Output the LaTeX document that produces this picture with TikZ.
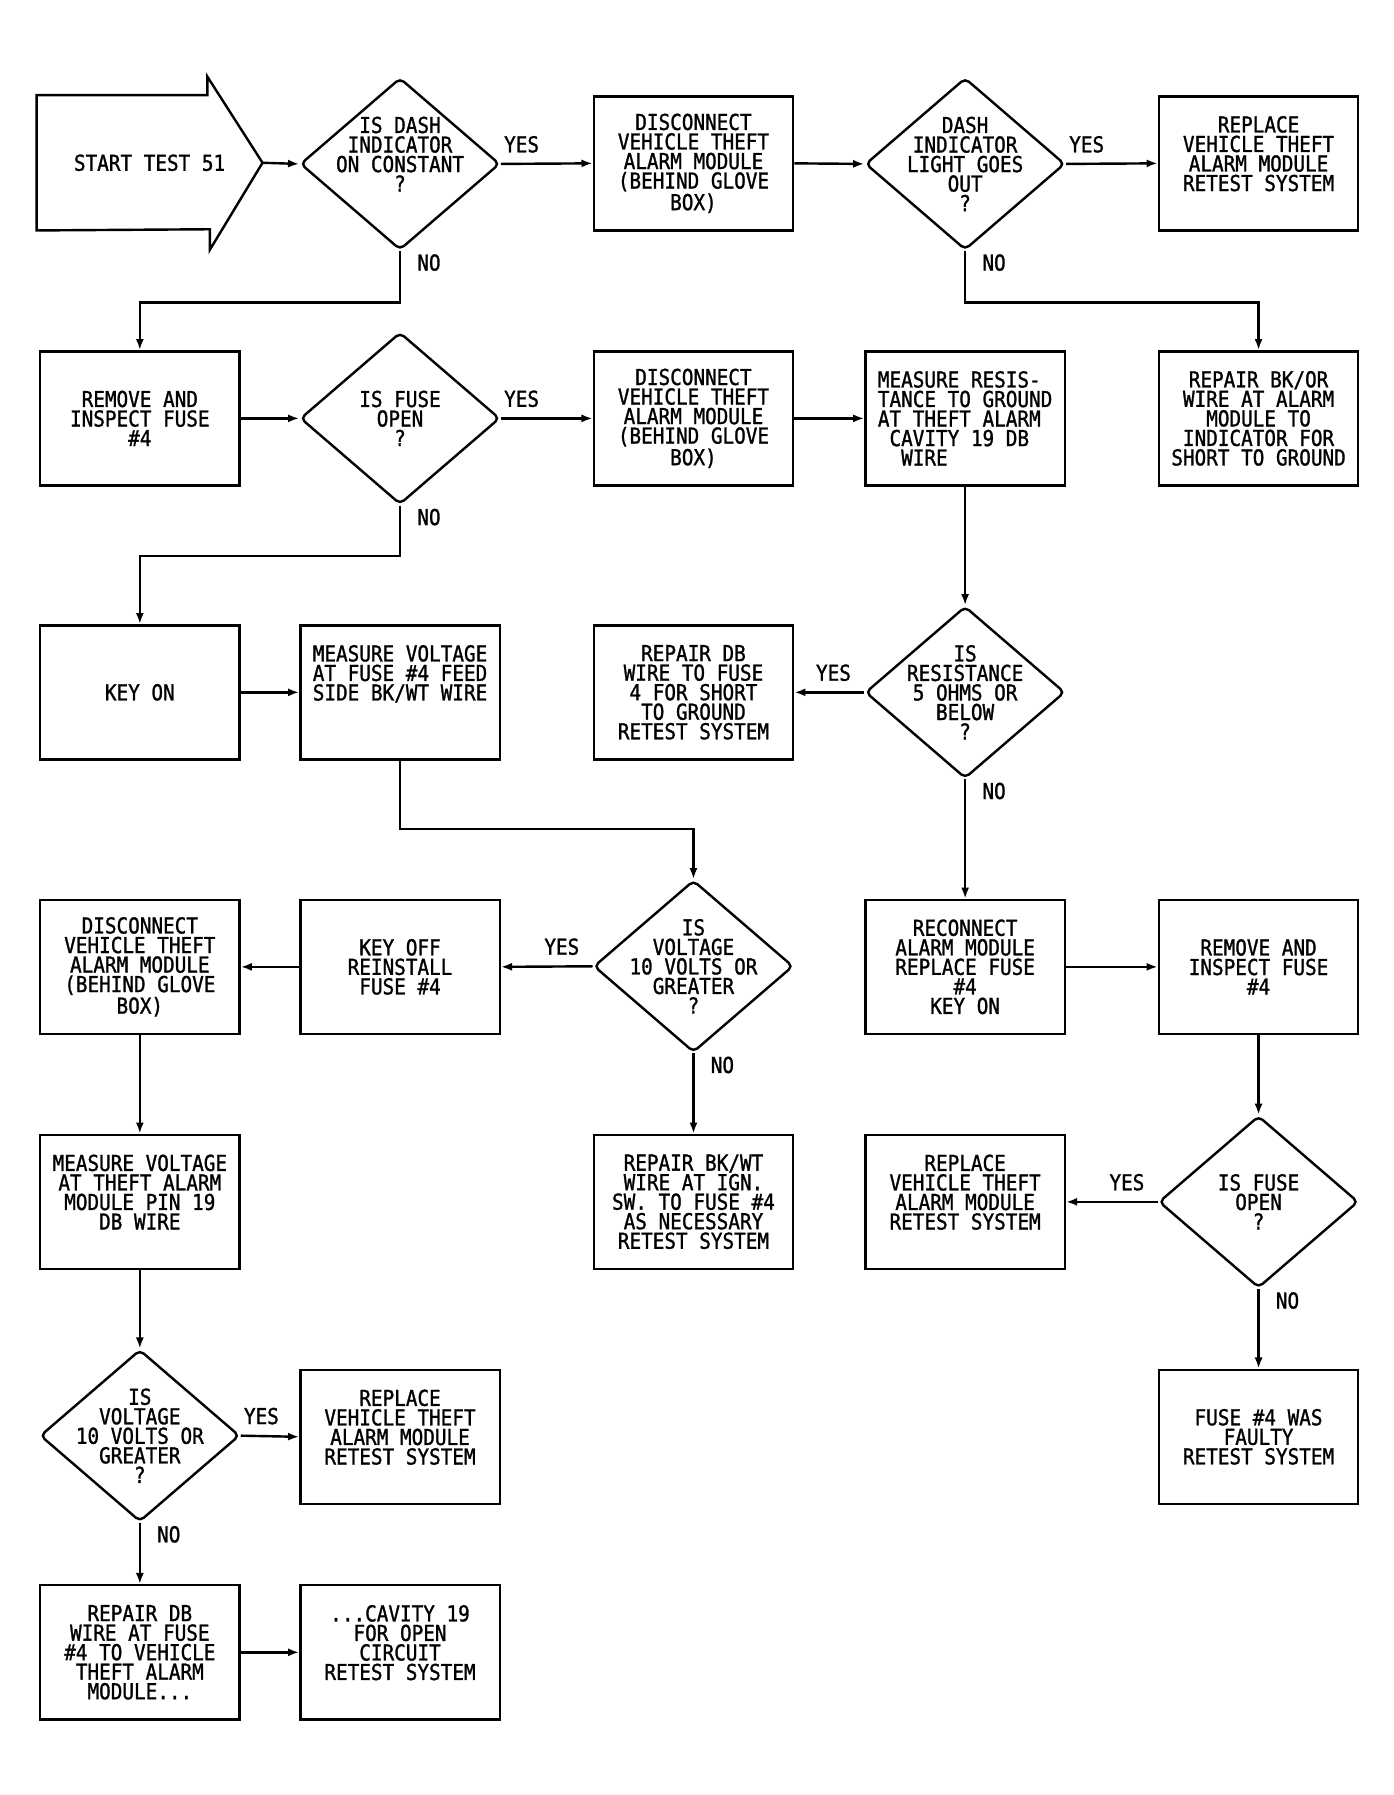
\documentclass[tikz,border=0pt]{standalone}
\usepackage{fontspec}
\usetikzlibrary{arrows.meta,shapes.geometric,calc}
\newfontfamily\plotter{DejaVu Sans Mono}[FakeStretch=0.88,FakeBold=1.2]
\def\plotsize{\plotter\fontsize{10.9pt}{9.7pt}\selectfont}

\begin{document}
\begin{tikzpicture}[x=0.02cm, y=-0.02cm, line width=1.2pt, font=\plotsize,
	box/.style={draw, rectangle, minimum width=3.48cm, minimum height=2.34cm, inner sep=0pt, align=center},
	dia/.style={draw, diamond, minimum width=3.48cm, minimum height=3cm, inner sep=0pt, rounded corners=2.5pt},
	dtext/.style={align=center, inner sep=0pt},
	startbox/.style={minimum width=3.9cm, minimum height=2.32cm, inner sep=0pt},
	conn/.style={-{Latex[length=5.5pt,width=4pt]}},
	yesr/.style={pos=0, anchor=south west, inner sep=0pt, xshift=1pt, yshift=5pt},
	yesl/.style={pos=0, anchor=south east, inner sep=0pt, xshift=-6pt, yshift=5pt},
	nolab/.style={pos=0, anchor=north west, inner sep=0pt, xshift=8pt, yshift=-1pt}]
			%%%%% START %%%%%
			\useasboundingbox (0,0) rectangle (1216,1566);
			
			\node[startbox] (start) at (130.5,142) {START TEST 51};
			\draw (start.north west) -- ++(149,0) -- ++(0,-16) -- (start.east) -- ++(-46,76) -- ++(0,-18) -- (start.south west) -- cycle;
			
			\node[dia, label={[dtext]center:{IS DASH\\INDICATOR\\ON CONSTANT\\?\\~}}] (d1) at (349,143) {};
			\node[box] (disc1) at (605,142.5) {DISCONNECT\\VEHICLE THEFT\\ALARM MODULE\\(BEHIND GLOVE\\BOX)};
			\node[dia, label={[dtext]center:{DASH\\INDICATOR\\LIGHT GOES\\OUT\\?}}] (d2) at (842,143) {};
			\node[box] (repl1) at (1098,142.5) {REPLACE\\VEHICLE THEFT\\ALARM MODULE\\RETEST SYSTEM\\~};
			
			\node[box] (rem1) at (122,365) {REMOVE AND\\INSPECT FUSE\\\#4};
			\node[dia, label={[dtext]center:{IS FUSE\\OPEN\\?}}] (d3) at (349,365) {};
			\node[box] (disc2) at (605,365) {DISCONNECT\\VEHICLE THEFT\\ALARM MODULE\\(BEHIND GLOVE\\BOX)};
			\node[box, align=left] (measres) at (842,365) {MEASURE RESIS-\\TANCE TO GROUND\\AT THEFT ALARM\\\hphantom{0}CAVITY 19 DB\\\hphantom{00}WIRE};
			\node[box] (repbkor) at (1098,365) {REPAIR BK/OR\\WIRE AT ALARM\\MODULE TO\\INDICATOR FOR\\SHORT TO GROUND};
			
			\node[box] (keyon) at (122,604) {KEY ON};
			\node[box] (measvf) at (349,604) {MEASURE VOLTAGE\\AT FUSE \#4 FEED\\SIDE BK/WT WIRE\\~\\~};
			\node[box] (repdb) at (605,604) {REPAIR DB\\WIRE TO FUSE\\4 FOR SHORT\\TO GROUND\\RETEST SYSTEM};
			\node[dia, label={[dtext]center:{IS\\RESISTANCE\\5 OHMS OR\\BELOW\\?}}] (dres) at (842,604) {};
			
			\node[box] (discv) at (122,843.5) {DISCONNECT\\VEHICLE THEFT\\ALARM MODULE\\(BEHIND GLOVE\\BOX)};
			\node[box] (keyoff) at (349,843.5) {KEY OFF\\REINSTALL\\FUSE \#4};
			\node[dia, label={[dtext]center:{IS\\VOLTAGE\\10 VOLTS OR\\GREATER\\?}}] (dv) at (605,843) {};
			\node[box] (reconn) at (842,843.5) {RECONNECT\\ALARM MODULE\\REPLACE FUSE\\\#4\\KEY ON};
			\node[box] (rem2) at (1098,843.5) {REMOVE AND\\INSPECT FUSE\\\#4};
			
			\node[box] (measvt) at (122,1048.5) {MEASURE VOLTAGE\\AT THEFT ALARM\\MODULE PIN 19\\DB WIRE\\~};
			\node[box] (repbkwt) at (605,1048.5) {REPAIR BK/WT\\WIRE AT IGN.\\SW. TO FUSE \#4\\AS NECESSARY\\RETEST SYSTEM};
			\node[box] (repl5) at (842,1048.5) {REPLACE\\VEHICLE THEFT\\ALARM MODULE\\RETEST SYSTEM\\~};
			\node[dia, label={[dtext]center:{IS FUSE\\OPEN\\?}}] (dfuse) at (1098,1048.5) {};
			
			\node[dia, label={[dtext]center:{IS\\VOLTAGE\\10 VOLTS OR\\GREATER\\?}}] (dv2) at (122,1252.5) {};
			\node[box] (repl6) at (349,1253.5) {REPLACE\\VEHICLE THEFT\\ALARM MODULE\\RETEST SYSTEM\\~};
			\node[box] (faulty) at (1098,1253.5) {FUSE \#4 WAS\\FAULTY\\RETEST SYSTEM};
			
			\node[box] (repdbf) at (122,1441.5) {REPAIR DB\\WIRE AT FUSE\\\#4 TO VEHICLE\\THEFT ALARM\\MODULE...};
			\node[box] (cavity) at (349,1441.5) {...CAVITY 19\\FOR OPEN\\CIRCUIT\\RETEST SYSTEM\\~};
			
			\draw[conn] (start.east) -- (d1.west);
			\draw[conn] (d1.east) -- node[yesr] {YES} (disc1.west);
			\draw[conn] (d1.south) -- node[nolab] {NO} ++(0,45) -| (rem1.north);
			\draw[conn] (disc1.east) -- (d2.west);
			\draw[conn] (d2.east) -- node[yesr] {YES} (repl1.west);
			\draw[conn] (d2.south) -- node[nolab] {NO} ++(0,45) -| (repbkor.north);
			
			\draw[conn] (rem1.east) -- (d3.west);
			\draw[conn] (d3.east) -- node[yesr] {YES} (disc2.west);
			\draw[conn] (d3.south) -- node[nolab] {NO} ++(0,44) -| (keyon.north);
			\draw[conn] (disc2.east) -- (measres.west);
			\draw[conn] (measres.south) -- (dres.north);
			
			\draw[conn] (keyon.east) -- (measvf.west);
			\draw[conn] (dres.west) -- node[yesl] {YES} (repdb.east);
			\draw[conn] (dres.south) -- node[nolab] {NO} (reconn.north);
			\draw[conn] (measvf.south) -- ++(0,59.5) -| (dv.north);
			
			\draw[conn] (dv.west) -- node[yesl] {YES} (keyoff.east);
			\draw[conn] (keyoff.west) -- (discv.east);
			\draw[conn] (dv.south) -- node[nolab] {NO} (repbkwt.north);
			\draw[conn] (reconn.east) -- (rem2.west);
			\draw[conn] (rem2.south) -- (dfuse.north);
			
			\draw[conn] (dfuse.west) -- node[yesl] {YES} (repl5.east);
			\draw[conn] (dfuse.south) -- node[nolab] {NO} (faulty.north);
			\draw[conn] (discv.south) -- (measvt.north);
			\draw[conn] (measvt.south) -- (dv2.north);
			
			\draw[conn] (dv2.east) -- node[yesr] {YES} (repl6.west);
			\draw[conn] (dv2.south) -- node[nolab] {NO} (repdbf.north);
			\draw[conn] (repdbf.east) -- (cavity.west);
			
			%%%%% END %%%%%
\end{tikzpicture}
\end{document}
